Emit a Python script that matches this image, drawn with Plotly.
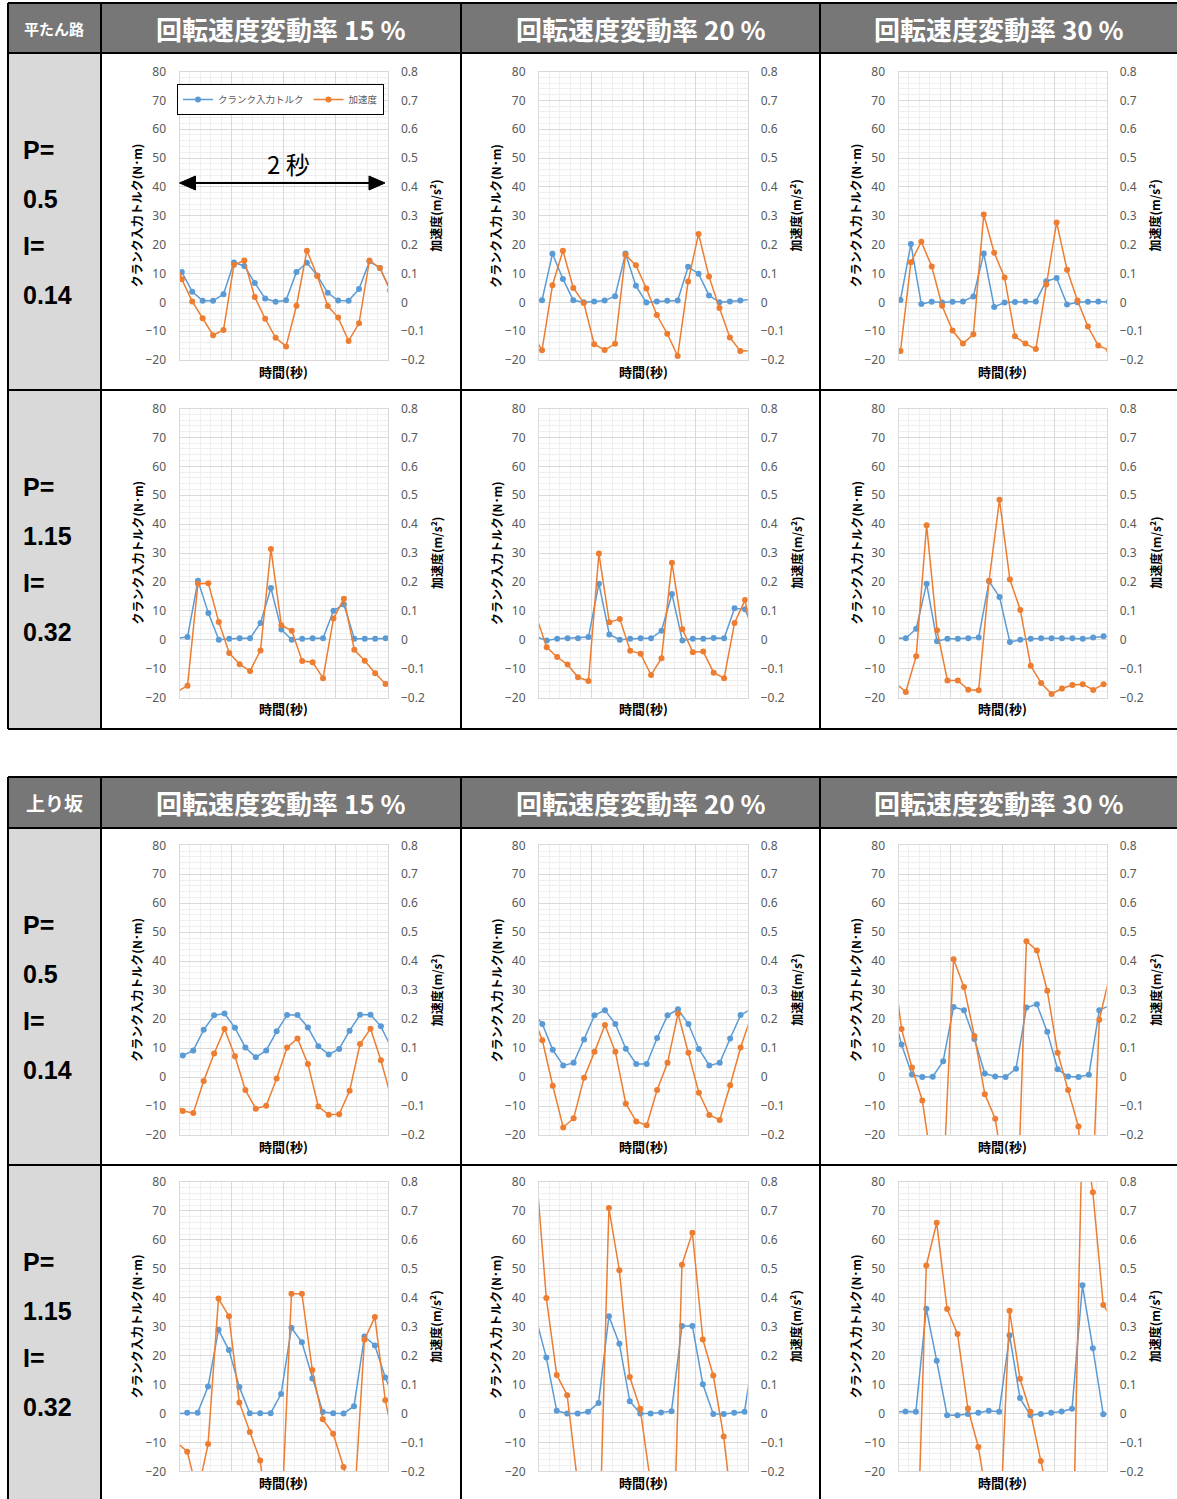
import plotly.graph_objects as go

W, H = 1177, 1499
SAMPLE_DT = 0.1  # seconds between samples

ROADS = ["平たん路", "上り坂"]
RATES = ["回転速度変動率 15 %", "回転速度変動率 20 %", "回転速度変動率 30 %"]
COND_P = ["0.5", "1.15"]
COND_I = ["0.14", "0.32"]
SERIES_NAMES = ["クランク入力トルク", "加速度"]
X_TITLE = "時間(秒)"
Y_TITLE_L = "クランク入力トルク(N･m)"
Y_TITLE_R = "加速度(m/s²)"
SPAN_LABEL = "2 秒"

# ---- data: torque (N·m) and acceleration (m/s²), one sample every 0.1 s ----
# flat road, P=0.5 I=0.14
start_flat_low_15 = -0.078
torque_flat_low_15 = [13, 10.5, 3.7, 0.5, 0.5, 2.8, 13.8, 12.6, 6.7, 1.3, 0.2, 0.7, 10.5, 13.7, 9.3, 3.3, 0.6, 0.5, 4.6, 14.2, 11.9, 4.3]
accel_flat_low_15 = [0.2, 0.08, 0.003, -0.055, -0.114, -0.096, 0.13, 0.145, 0.018, -0.057, -0.123, -0.153, -0.012, 0.179, 0.091, -0.013, -0.053, -0.134, -0.073, 0.145, 0.119, 0.04]
start_flat_low_20 = -0.071
torque_flat_low_20 = [0.7, 0.7, 16.8, 8.1, 0.7, 0, 0.3, 0.6, 2.1, 16.9, 5.7, -0.1, 0.3, 0.5, 0.6, 12.3, 9.9, 2.4, 0, 0.3, 0.6, 1.0]
accel_flat_low_20 = [-0.106, -0.166, 0.059, 0.179, 0.05, -0.002, -0.145, -0.165, -0.144, 0.165, 0.128, 0.048, -0.044, -0.109, -0.186, 0.072, 0.237, 0.089, -0.02, -0.122, -0.169, -0.168]
start_flat_low_30 = -0.081
torque_flat_low_30 = [0.5, 0.8, 20.2, -0.6, 0.2, -0.1, 0.2, 0.3, 2.0, 16.9, -1.6, -0.1, 0.1, 0.3, 0.3, 7.3, 8.4, -0.8, 0, 0.2, 0.3, 0.2]
accel_flat_low_30 = [-0.15, -0.169, 0.139, 0.21, 0.124, -0.012, -0.098, -0.143, -0.111, 0.304, 0.172, 0.086, -0.118, -0.143, -0.162, 0.062, 0.277, 0.113, 0.006, -0.084, -0.15, -0.165]
# flat road, P=1.15 I=0.32
start_flat_high_15 = -0.023
torque_flat_high_15 = [0.5, 0.9, 20.4, 9.2, 0, 0.3, 0.5, 0.5, 5.8, 17.9, 3.5, 0, 0.3, 0.5, 0.5, 10, 12.2, 0.3, 0.3, 0.3, 0.5, 0.5]
accel_flat_high_15 = [-0.18, -0.159, 0.194, 0.195, 0.061, -0.046, -0.085, -0.108, -0.037, 0.314, 0.05, 0.031, -0.074, -0.078, -0.133, 0.073, 0.142, -0.035, -0.073, -0.116, -0.153, -0.165]
start_flat_high_20 = -0.026
torque_flat_high_20 = [1, -0.3, 0.3, 0.5, 0.5, 0.9, 19.4, 1.8, 0, 0.3, 0.5, 0.5, 3.1, 15.8, -0.3, 0.3, 0.3, 0.6, 0.5, 10.9, 10.5, 2]
accel_flat_high_20 = [0.08, -0.026, -0.06, -0.086, -0.13, -0.143, 0.298, 0.06, 0.072, -0.038, -0.049, -0.122, -0.064, 0.266, 0.036, -0.043, -0.041, -0.114, -0.133, 0.058, 0.137, -0.05]
start_flat_high_30 = -0.030
torque_flat_high_30 = [0.5, 0.5, 3.8, 19.4, -0.5, 0.3, 0.3, 0.5, 0.8, 20.2, 14.8, -0.8, 0, 0.3, 0.5, 0.5, 0.5, 0.5, 0.3, 0.8, 1.2, 1.3]
accel_flat_high_30 = [-0.15, -0.181, -0.057, 0.396, 0.033, -0.141, -0.141, -0.173, -0.175, 0.204, 0.484, 0.208, 0.103, -0.09, -0.15, -0.188, -0.169, -0.157, -0.154, -0.174, -0.154, -0.155]
# uphill, P=0.5 I=0.14
start_up_low_15 = -0.068
torque_up_low_15 = [9, 7.4, 9.2, 16.3, 21.3, 21.9, 17.0, 10.2, 6.8, 9.2, 15.8, 21.4, 21.4, 17.1, 10.6, 7.8, 9.7, 16.0, 21.5, 21.5, 17.5, 10]
accel_up_low_15 = [-0.08, -0.117, -0.124, -0.014, 0.081, 0.166, 0.072, -0.045, -0.109, -0.099, -0.005, 0.102, 0.133, 0.045, -0.102, -0.13, -0.128, -0.047, 0.114, 0.167, 0.058, -0.074]
start_up_low_20 = -0.068
torque_up_low_20 = [23, 18.3, 9.4, 4.0, 4.9, 13.0, 21.3, 23.1, 18.3, 9.8, 4.5, 4.5, 13.5, 21.3, 23.4, 18.3, 9.7, 4.0, 4.9, 13.3, 21.4, 23.5]
accel_up_low_20 = [0.22, 0.127, -0.03, -0.174, -0.142, -0.002, 0.087, 0.18, 0.087, -0.092, -0.153, -0.166, -0.045, 0.049, 0.219, 0.084, -0.054, -0.131, -0.148, -0.028, 0.102, 0.209]
start_up_low_30 = -0.071
torque_up_low_30 = [25, 11.2, 0.9, 0, 0.1, 5.5, 24.2, 23.1, 13.1, 1.2, 0.2, 0, 2.9, 24.0, 25.1, 15.6, 2.7, 0.2, 0, 0.8, 23.1, 24.7]
accel_up_low_30 = [0.45, 0.166, 0.033, -0.081, -0.327, -0.377, 0.407, 0.311, 0.142, -0.059, -0.144, -0.37, -0.6, 0.469, 0.437, 0.298, 0.084, -0.045, -0.171, -0.7, 0.198, 0.35]
# uphill, P=1.15 I=0.32
start_up_high_15 = -0.026
torque_up_high_15 = [0, 0.2, 0.2, 9.3, 28.9, 21.9, 9.1, 0.1, 0.1, 0.1, 6.7, 29.6, 24.6, 12.1, 0.5, 0.1, 0, 2.5, 26.6, 23.5, 12.4, 4]
accel_up_high_15 = [-0.1, -0.132, -0.275, -0.106, 0.397, 0.336, 0.038, -0.064, -0.163, -0.45, -0.405, 0.414, 0.414, 0.15, -0.02, -0.07, -0.185, -0.333, 0.255, 0.333, 0.046, -0.13]
start_up_high_20 = -0.030
torque_up_high_20 = [33, 19.3, 0.9, 0, 0, 0.6, 3.6, 33.6, 24.1, 4.2, 0, 0, 0.3, 0.8, 30.2, 30.2, 10.1, -0.2, -0.2, 0.2, 0.6, 25]
accel_up_high_20 = [0.85, 0.399, 0.133, 0.063, -0.24, -0.45, -0.57, 0.71, 0.495, 0.126, 0.016, -0.24, -0.5, -0.717, 0.514, 0.625, 0.256, 0.131, -0.08, -0.39, -0.6, -0.3]
start_up_high_30 = -0.033
torque_up_high_30 = [0.5, 0.7, 0.6, 36.2, 18.2, -0.6, -0.6, -0.2, 0.2, 0.9, 0.6, 27.0, 5.3, -0.6, -0.2, 0.2, 0.7, 1.6, 44.3, 22.5, -0.3, 0]
accel_up_high_30 = [-0.4, -0.5, -0.65, 0.511, 0.659, 0.361, 0.275, 0.017, -0.116, -0.333, -0.465, 0.355, 0.12, 0.006, -0.164, -0.323, -0.5, -0.62, 1.01, 0.765, 0.375, 0.32]

# (road, condition, rate, start, torque, accel)
PANELS = [
    (0, 0, 0, start_flat_low_15, torque_flat_low_15, accel_flat_low_15),
    (0, 0, 1, start_flat_low_20, torque_flat_low_20, accel_flat_low_20),
    (0, 0, 2, start_flat_low_30, torque_flat_low_30, accel_flat_low_30),
    (0, 1, 0, start_flat_high_15, torque_flat_high_15, accel_flat_high_15),
    (0, 1, 1, start_flat_high_20, torque_flat_high_20, accel_flat_high_20),
    (0, 1, 2, start_flat_high_30, torque_flat_high_30, accel_flat_high_30),
    (1, 0, 0, start_up_low_15, torque_up_low_15, accel_up_low_15),
    (1, 0, 1, start_up_low_20, torque_up_low_20, accel_up_low_20),
    (1, 0, 2, start_up_low_30, torque_up_low_30, accel_up_low_30),
    (1, 1, 0, start_up_high_15, torque_up_high_15, accel_up_high_15),
    (1, 1, 1, start_up_high_20, torque_up_high_20, accel_up_high_20),
    (1, 1, 2, start_up_high_30, torque_up_high_30, accel_up_high_30),
]

# ---- layout constants (pixels) ----
COL_X = [(179.5, 388.0), (539.0, 747.7), (898.5, 1106.7)]
ROW_Y = [(71.5, 360.0), (408.5, 697.5), (845.3, 1135.0), (1182.0, 1471.3)]
TABLES = [dict(top=3, head=53, mid=390, bottom=729), dict(top=777, head=828, mid=1165, bottom=1506)]
COL_EDGES = [8, 101, 461, 820, 1182]
LABEL_OFFSETS = [97, 146, 193, 242]

BLUE = "#5B9BD5"
ORANGE = "#ED7D31"
HEAD_GRAY = "#777777"
SIDE_GRAY = "#D9D9D9"
GRID = "#D9D9D9"
MINOR = "#EFEFEF"
TICK_COLOR = "#595959"
CJK = "Noto Sans CJK JP"
LATIN = "Liberation Sans"


def px(x):
    return x / W


def py(y):
    return 1 - y / H


def note(x, y, text, font, **kw):
    d = dict(x=px(x), y=py(y), xref="paper", yref="paper", text=text, showarrow=False,
             xanchor="center", yanchor="middle", font=font)
    d.update(kw)
    return d


fig = go.Figure()
layout = {}
annotations = []
shapes = []

for i, (road, cond, rate, start, torque, accel) in enumerate(PANELS):
    n = i + 1
    row = road * 2 + cond
    x0, x1 = COL_X[rate]
    y0, y1 = ROW_Y[row]
    xr = "x" if n == 1 else f"x{n}"
    ya_n, yb_n = 2 * n - 1, 2 * n
    yar = "y" if ya_n == 1 else f"y{ya_n}"
    ybr = f"y{yb_n}"
    times = [round(start + SAMPLE_DT * k, 4) for k in range(len(torque))]

    fig.add_trace(go.Scatter(
        x=times, y=torque, xaxis=xr, yaxis=yar, mode="lines+markers",
        name=SERIES_NAMES[0], legendrank=1, showlegend=(n == 1),
        line=dict(color=BLUE, width=1.5), marker=dict(size=6, color=BLUE)))
    fig.add_trace(go.Scatter(
        x=times, y=accel, xaxis=xr, yaxis=ybr, mode="lines+markers",
        name=SERIES_NAMES[1], legendrank=2, showlegend=(n == 1),
        line=dict(color=ORANGE, width=1.5), marker=dict(size=6, color=ORANGE)))

    xname = "xaxis" if n == 1 else f"xaxis{n}"
    yaname = "yaxis" if ya_n == 1 else f"yaxis{ya_n}"
    ybname = f"yaxis{yb_n}"
    layout[xname] = dict(
        domain=[px(x0), px(x1)], anchor=yar, range=[0, 2], tick0=0, dtick=0.5,
        showticklabels=False, ticks="", showgrid=True, gridcolor=GRID, gridwidth=1,
        minor=dict(dtick=0.1, tick0=0, showgrid=True, gridcolor=MINOR, gridwidth=1),
        showline=True, linecolor=GRID, linewidth=1, mirror=True, zeroline=False,
        fixedrange=True, automargin=False)
    layout[yaname] = dict(
        domain=[py(y1), py(y0)], anchor=xr, range=[-20, 80], tick0=0, dtick=10,
        showgrid=True, gridcolor=GRID, gridwidth=1,
        minor=dict(dtick=2, tick0=0, showgrid=True, gridcolor=MINOR, gridwidth=1),
        showline=True, linecolor=GRID, linewidth=1, mirror=True, zeroline=False,
        ticks="", ticklabelstandoff=10, automargin=False,
        tickfont=dict(family="Noto Sans", size=12, color=TICK_COLOR), fixedrange=True)
    layout[ybname] = dict(
        overlaying=yar, anchor=xr, side="right", range=[-0.2, 0.8], tick0=0, dtick=0.1,
        showgrid=False, zeroline=False, showline=False, ticks="", ticklabelstandoff=12,
        automargin=False,
        tickfont=dict(family="Noto Sans", size=12, color=TICK_COLOR), fixedrange=True)

    # axis titles
    title_font = dict(family=CJK, size=12, color="black", weight="bold")
    annotations.append(note(x0 - 43, (y0 + y1) / 2, Y_TITLE_L, title_font, textangle=-90))
    annotations.append(note(x1 + 48, (y0 + y1) / 2, Y_TITLE_R, title_font, textangle=-90))
    annotations.append(note((x0 + x1) / 2, y1 + 11, X_TITLE,
                            dict(family=CJK, size=13, color="black", weight="bold")))

# ---- table frames ----
for t, tb in enumerate(TABLES):
    shapes.append(dict(type="rect", xref="paper", yref="paper", layer="below",
                       x0=px(COL_EDGES[0]), x1=px(COL_EDGES[-1]), y0=py(tb["head"]), y1=py(tb["top"]),
                       fillcolor=HEAD_GRAY, line=dict(width=0)))
    shapes.append(dict(type="rect", xref="paper", yref="paper", layer="below",
                       x0=px(COL_EDGES[0]), x1=px(COL_EDGES[1]), y0=py(tb["bottom"]), y1=py(tb["head"]),
                       fillcolor=SIDE_GRAY, line=dict(width=0)))
    for yy in (tb["top"], tb["head"], tb["mid"], tb["bottom"]):
        shapes.append(dict(type="line", xref="paper", yref="paper",
                           x0=px(COL_EDGES[0]), x1=px(COL_EDGES[-1]), y0=py(yy), y1=py(yy),
                           line=dict(color="black", width=2)))
    for xx in COL_EDGES[:-1]:
        shapes.append(dict(type="line", xref="paper", yref="paper",
                           x0=px(xx), x1=px(xx), y0=py(tb["top"]), y1=py(tb["bottom"]),
                           line=dict(color="black", width=2)))
    # header texts
    hy = (tb["top"] + tb["head"]) / 2
    annotations.append(note((COL_EDGES[0] + COL_EDGES[1]) / 2, hy, ROADS[t],
                            dict(family=CJK, size=15 if t == 0 else 19, color="white", weight="bold")))
    for c in range(3):
        cx = (COL_EDGES[c + 1] + min(COL_EDGES[c + 2], 1177)) / 2
        annotations.append(note(cx, hy, RATES[c],
                                dict(family=CJK, size=26, color="white", weight="bold")))
    # row labels
    for r in range(2):
        cell_top = tb["head"] if r == 0 else tb["mid"]
        texts = ["P=", COND_P[r], "I=", COND_I[r]]
        for txt, off in zip(texts, LABEL_OFFSETS):
            annotations.append(note(21, cell_top + off, txt,
                                    dict(family=LATIN, size=25, color="black", weight="bold"),
                                    xanchor="left"))

# ---- "2 秒" span arrow in the first panel ----
ax0, ax1 = COL_X[0][0], COL_X[0][1] - 3
ay = 183
shapes.append(dict(type="line", xref="paper", yref="paper", x0=px(ax0 + 8), x1=px(ax1 - 8),
                   y0=py(ay), y1=py(ay), line=dict(color="black", width=2)))
for tip, base in ((ax0, ax0 + 16), (ax1, ax1 - 16)):
    shapes.append(dict(type="path", xref="paper", yref="paper",
                       path=f"M {px(tip)} {py(ay)} L {px(base)} {py(ay - 7)} L {px(base)} {py(ay + 7)} Z",
                       fillcolor="black", line=dict(color="black", width=1)))
annotations.append(note(288, 163, SPAN_LABEL, dict(family=CJK, size=24, color="black")))

fig.update_layout(
    width=W, height=H, margin=dict(l=0, r=0, t=0, b=0, pad=0, autoexpand=False),
    paper_bgcolor="white", plot_bgcolor="white", hovermode=False,
    annotations=annotations, shapes=shapes,
    legend=dict(x=px(280.5), y=py(84), xanchor="center", yanchor="top", orientation="h",
                bordercolor="black", borderwidth=1, bgcolor="white",
                font=dict(family=CJK, size=9.5, color="#595959"), traceorder="normal",
                itemwidth=30),
    **layout,
)

fig.write_html("out.html", config={"displayModeBar": False, "staticPlot": True},
               post_script="document.body.style.margin='0';document.body.style.overflow='hidden';")
